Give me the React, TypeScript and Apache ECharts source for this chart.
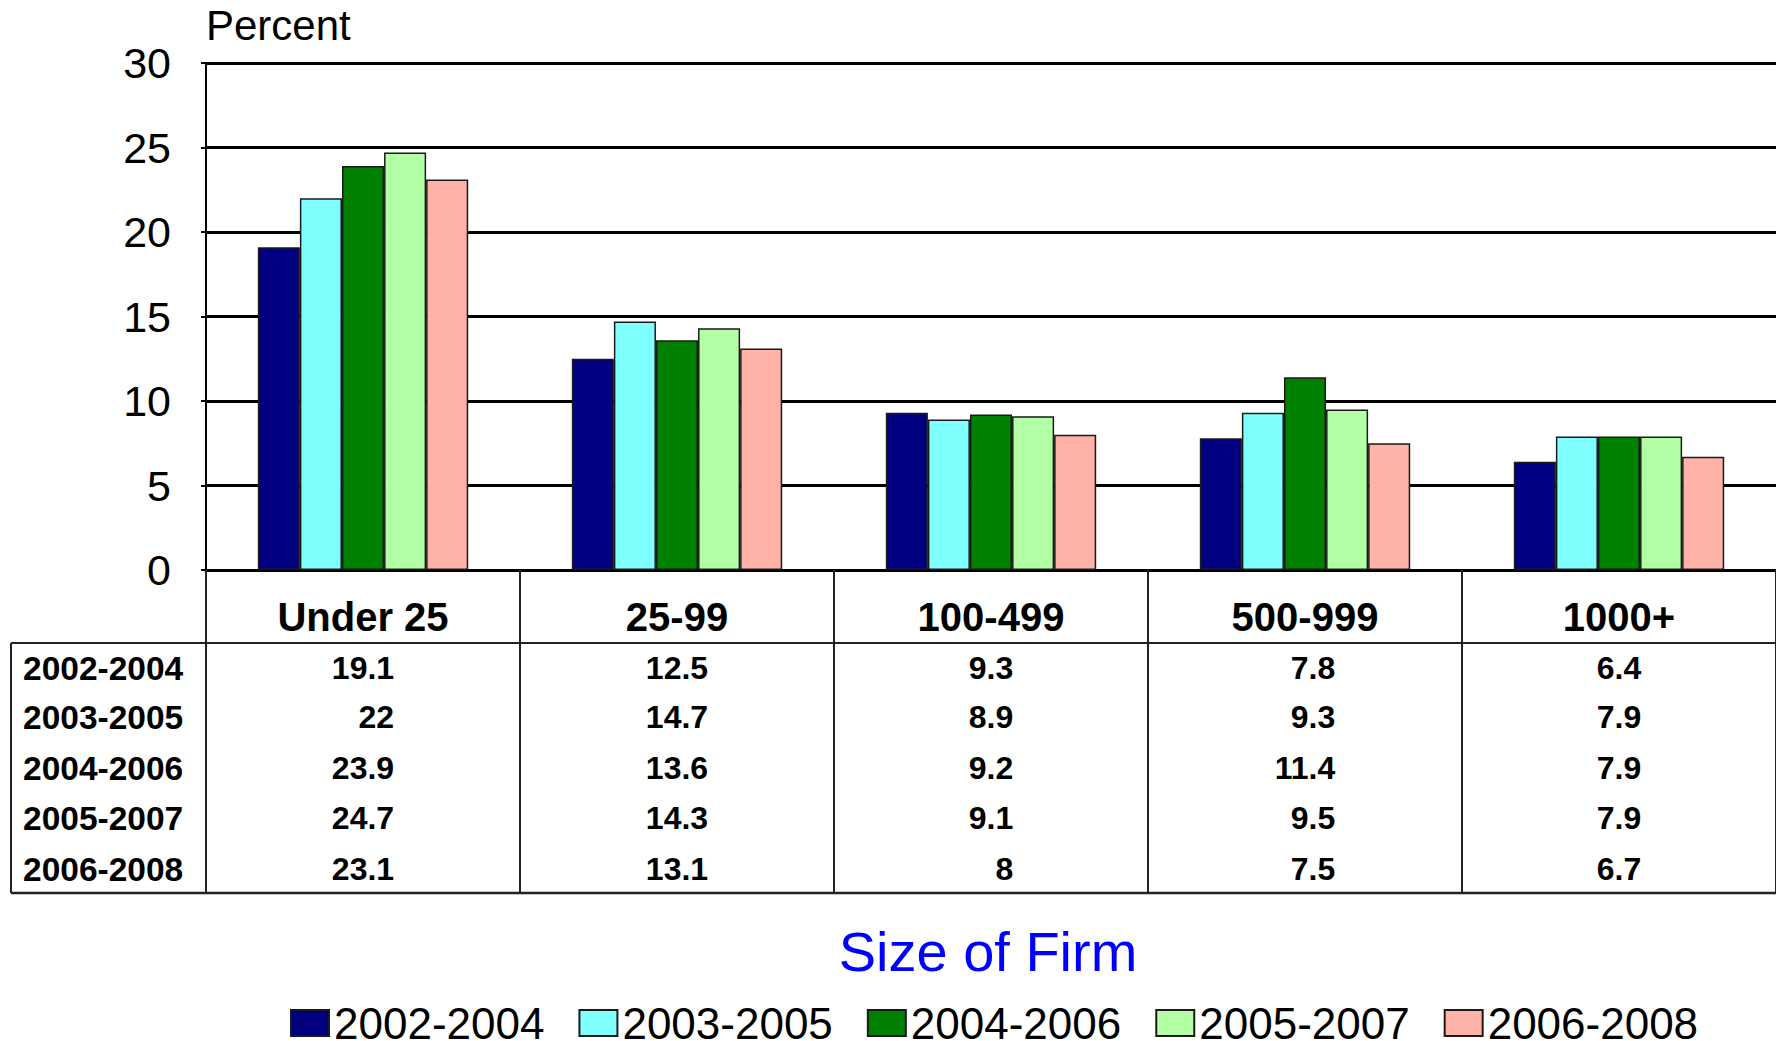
import React, { useEffect, useRef } from 'react';
import * as echarts from 'echarts';

const categories = ['Under 25', '25-99', '100-499', '500-999', '1000+'];
const seriesNames = ['2002-2004', '2003-2005', '2004-2006', '2005-2007', '2006-2008'];
const v2002_2004 = [19.1, 12.5, 9.3, 7.8, 6.4];
const v2003_2005 = [22, 14.7, 8.9, 9.3, 7.9];
const v2004_2006 = [23.9, 13.6, 9.2, 11.4, 7.9];
const v2005_2007 = [24.7, 14.3, 9.1, 9.5, 7.9];
const v2006_2008 = [23.1, 13.1, 8, 7.5, 6.7];
const seriesValues = [v2002_2004, v2003_2005, v2004_2006, v2005_2007, v2006_2008];
const colors = ['#000080', '#80ffff', '#008000', '#b3ffa6', '#ffb2a8'];
const yMin = 0;
const yMax = 30;
const yInterval = 5;
const axisName = 'Percent';
const xTitle = 'Size of Firm';

const FONT = "'Liberation Sans', Arial, Helvetica, sans-serif";

export default function App() {
  const ref = useRef<HTMLDivElement>(null);
  useEffect(() => {
    document.body.style.margin = '0';
    const el = ref.current!;
    const chart = echarts.init(el, null, { renderer: 'svg' });
    const gridTop = 63;
    const gridBottomY = 570;
    const tableTop = 643;
    const tableBottom = 893;
    const tableLeft = 11;
    const rowY = [668, 717, 768, 818, 869];
    const W = 1776;
    const H = 1041;

    chart.setOption({
      animation: false,
      textStyle: { fontFamily: FONT },
      grid: { left: 206, width: 1575, top: gridTop, bottom: H - gridBottomY, containLabel: false },
      legend: {
        data: seriesNames,
        left: 290,
        top: 1001,
        padding: 0,
        itemWidth: 38,
        itemHeight: 26,
        itemGap: 34,
        icon: 'rect',
        textStyle: { fontFamily: FONT, fontSize: 44, color: '#000', lineHeight: 30 },
      },
      xAxis: {
        type: 'category',
        data: categories,
        axisLine: { show: true, lineStyle: { color: '#000', width: 3 } },
        axisTick: { show: true, length: tableBottom - gridBottomY, interval: 0, lineStyle: { color: '#222', width: 2 } },
        axisLabel: {
          interval: 0,
          margin: 47,
          fontFamily: FONT,
          fontSize: 40,
          fontWeight: 'bold',
          color: '#000',
          verticalAlign: 'middle',
          lineHeight: 40,
        },
        splitLine: { show: false },
      },
      yAxis: {
        type: 'value',
        min: yMin,
        max: yMax,
        interval: yInterval,
        name: axisName,
        nameLocation: 'end',
        nameGap: 17,
        nameTextStyle: { fontFamily: FONT, fontSize: 42, color: '#000', align: 'left', verticalAlign: 'bottom' },
        axisLine: { show: true, lineStyle: { color: '#000', width: 2 } },
        axisTick: { show: true, length: 5, lineStyle: { color: '#000', width: 2 } },
        axisLabel: { margin: 35, fontFamily: FONT, fontSize: 43, color: '#000' },
        splitLine: { show: true, lineStyle: { color: '#000', width: 3 } },
      },
      series: seriesNames.map((name, i) => ({
        name,
        type: 'bar',
        data: seriesValues[i],
        barGap: '0%',
        barCategoryGap: '33%',
        itemStyle: { color: colors[i], borderColor: '#1a1a1a', borderWidth: 1.5 },
      })),
    });

    const ctx = document.createElement('canvas').getContext('2d')!;
    const valFont = `bold 32px ${FONT}`;
    ctx.font = valFont;
    const graphics: any[] = [];
    graphics.push({ type: 'line', shape: { x1: tableLeft, y1: tableTop, x2: W, y2: tableTop }, style: { stroke: '#222', lineWidth: 2 } });
    graphics.push({ type: 'line', shape: { x1: tableLeft, y1: tableBottom, x2: W, y2: tableBottom }, style: { stroke: '#222', lineWidth: 2.5 } });
    graphics.push({ type: 'line', shape: { x1: tableLeft, y1: tableTop, x2: tableLeft, y2: tableBottom }, style: { stroke: '#222', lineWidth: 2 } });
    seriesNames.forEach((n, r) => {
      graphics.push({ type: 'text', x: 23, y: rowY[r], style: { text: n, font: `bold 33.5px ${FONT}`, fill: '#000', align: 'left', verticalAlign: 'middle' } });
    });
    categories.forEach((c, ci) => {
      const cx = chart.convertToPixel({ xAxisIndex: 0 }, c) as number;
      let maxW = 0;
      seriesValues.forEach((vals) => {
        maxW = Math.max(maxW, ctx.measureText(String(vals[ci])).width);
      });
      const rx = cx + maxW / 2;
      seriesValues.forEach((vals, r) => {
        graphics.push({ type: 'text', x: rx, y: rowY[r], style: { text: String(vals[ci]), font: valFont, fill: '#000', align: 'right', verticalAlign: 'middle' } });
      });
    });
    graphics.push({ type: 'text', x: 988, y: 951, style: { text: xTitle, font: `56px ${FONT}`, fill: '#0000ff', align: 'center', verticalAlign: 'middle' } });
    chart.setOption({ graphic: graphics });

    return () => chart.dispose();
  }, []);
  return <div ref={ref} style={{ width: 1776, height: 1041 }} />;
}
